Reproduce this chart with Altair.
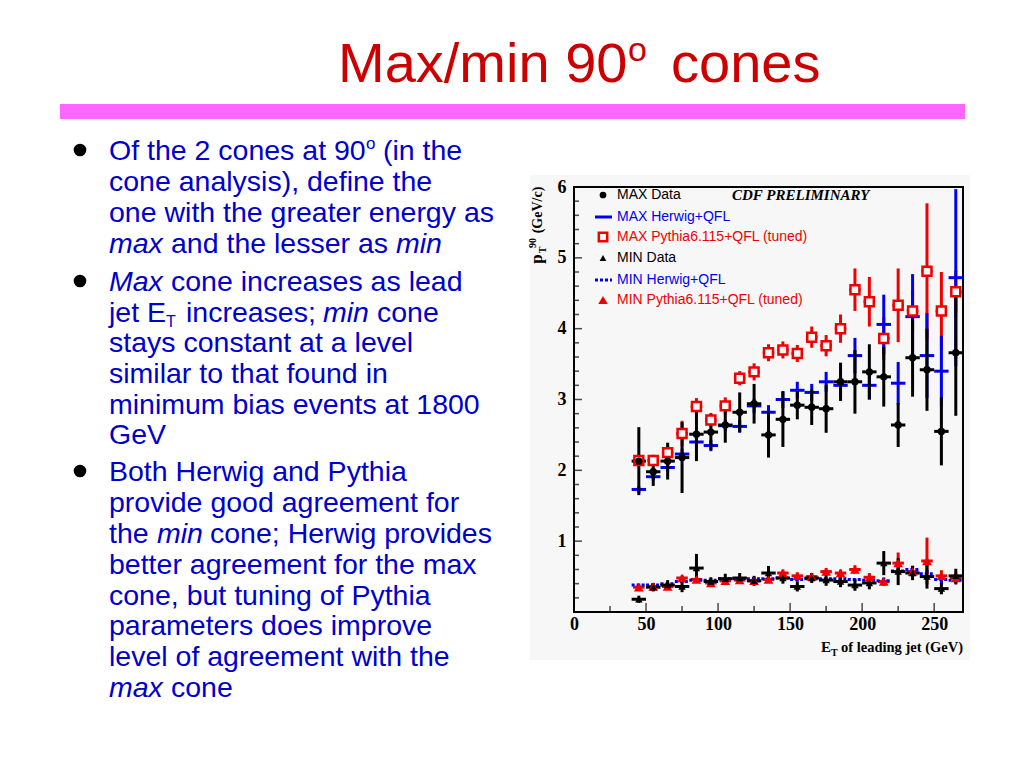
import altair as alt
import pandas as pd

# ---------------- data ----------------
et_bins = [45, 55, 65, 75, 85, 95, 105, 115, 125, 135, 145, 155,
           165, 175, 185, 195, 205, 215, 225, 235, 245, 255, 265]

max_data = [2.13, 1.98, 2.13, 2.18, 2.51, 2.54, 2.64, 2.82, 2.94, 2.50, 2.72, 2.92,
            2.89, 2.87, 3.25, 3.25, 3.39, 3.32, 2.64, 3.59, 3.42, 2.55, 3.66]
max_data_err = [0.48, 0.20, 0.26, 0.50, 0.38, 0.25, 0.25, 0.28, 0.28, 0.32, 0.39, 0.20,
                0.25, 0.34, 0.27, 0.45, 0.39, 0.42, 0.31, 0.55, 0.58, 0.48, 0.89]

max_herwig = [1.73, 1.91, 2.04, 2.23, 2.40, 2.35, 2.63, 2.62, 2.91, 2.82, 3.00, 3.13,
              3.10, 3.25, 3.20, 3.62, 3.20, 4.06, 3.23, 4.17, 3.62, 3.40, 4.72]
max_herwig_err = [0.05, 0.05, 0.06, 0.07, 0.07, 0.08, 0.08, 0.09, 0.10, 0.10, 0.12, 0.12,
                  0.12, 0.14, 0.15, 0.25, 0.20, 0.42, 0.30, 0.60, 0.60, 0.50, 1.25]

max_pythia = [2.14, 2.14, 2.25, 2.52, 2.90, 2.71, 2.91, 3.30, 3.39, 3.66, 3.70, 3.65,
              3.88, 3.76, 4.00, 4.55, 4.38, 3.86, 4.33, 4.25, 4.81, 4.25, 4.52]
max_pythia_err = [0.08, 0.08, 0.10, 0.18, 0.12, 0.10, 0.12, 0.10, 0.12, 0.12, 0.12, 0.12,
                  0.15, 0.15, 0.20, 0.30, 0.35, 0.30, 0.52, 0.30, 0.96, 0.55, 0.30]

min_data = [0.18, 0.35, 0.38, 0.36, 0.62, 0.43, 0.47, 0.48, 0.44, 0.55, 0.48, 0.36,
            0.48, 0.45, 0.43, 0.38, 0.41, 0.69, 0.57, 0.55, 0.50, 0.33, 0.51]
min_data_err = [0.05, 0.06, 0.07, 0.08, 0.20, 0.06, 0.07, 0.07, 0.07, 0.10, 0.08, 0.07,
                0.07, 0.08, 0.08, 0.08, 0.09, 0.17, 0.19, 0.10, 0.17, 0.08, 0.10]

min_herwig = [0.38, 0.38, 0.40, 0.43, 0.45, 0.45, 0.47, 0.47, 0.47, 0.47, 0.48, 0.46,
              0.47, 0.47, 0.47, 0.46, 0.45, 0.44, 0.58, 0.60, 0.54, 0.46, 0.45]
min_herwig_err = [0.02, 0.02, 0.02, 0.02, 0.02, 0.02, 0.02, 0.02, 0.02, 0.02, 0.03, 0.03,
                  0.03, 0.03, 0.03, 0.03, 0.04, 0.04, 0.06, 0.06, 0.06, 0.06, 0.06]

min_pythia = [0.35, 0.36, 0.36, 0.48, 0.46, 0.41, 0.44, 0.45, 0.44, 0.46, 0.55, 0.51,
              0.50, 0.57, 0.55, 0.60, 0.49, 0.43, 0.69, 0.57, 0.72, 0.51, 0.48]
min_pythia_err = [0.03, 0.03, 0.03, 0.04, 0.04, 0.04, 0.04, 0.04, 0.04, 0.04, 0.05, 0.05,
                  0.05, 0.05, 0.05, 0.06, 0.06, 0.06, 0.15, 0.08, 0.33, 0.08, 0.08]

x_major = [0, 50, 100, 150, 200, 250]
x_minor = [25, 75, 125, 175, 225]
y_major = [1, 2, 3, 4, 5, 6]
y_minor = [round(i * 0.2, 1) for i in range(1, 30) if i % 5]

legend_labels = ["MAX Data", "MAX Herwig+QFL", "MAX Pythia6.115+QFL (tuned)",
                 "MIN Data", "MIN Herwig+QFL", "MIN Pythia6.115+QFL (tuned)"]

# ---------------- layout ----------------
X0, Y0 = 574, 187          # page position of the plot origin
W, H = 389, 425
BG = "#f7f7f7"
BLUE = "#0000f0"
RED = "#f00000"
TXT_BLUE = "#0000cc"
TITLE_RED = "#cc0000"
SERIF = "Liberation Serif"
SANS = "Liberation Sans"

one = pd.DataFrame({"a": [0]})

xs = alt.Scale(domain=[0, 270], nice=False, zero=False)
ys = alt.Scale(domain=[0, 6], nice=False, zero=False)
ax_x = alt.Axis(values=x_major, title=None, ticks=False, domain=False, grid=False,
                labelFont=SERIF, labelFontWeight="bold", labelFontSize=18,
                labelColor="black", labelPadding=3, labelFlush=False, zindex=2)
ax_y = alt.Axis(values=y_major, title=None, ticks=False, domain=False, grid=False,
                labelFont=SERIF, labelFontWeight="bold", labelFontSize=18,
                labelColor="black", labelPadding=8, labelFlush=False, zindex=2)


def X(f):
    return alt.X(f"{f}:Q", scale=xs, axis=ax_x)


def Y(f):
    return alt.Y(f"{f}:Q", scale=ys, axis=ax_y)


def base(vals, errs, half=5):
    df = pd.DataFrame({"et": et_bins, "v": vals, "e": errs})
    return alt.Chart(df).transform_calculate(
        lo="datum.v - datum.e", hi="datum.v + datum.e",
        xl=f"datum.et - {half}", xr=f"datum.et + {half}")


def vbar(b, c, dash=None):
    kw = {"strokeDash": dash} if dash else {}
    return b.mark_rule(color=c, strokeWidth=3, **kw).encode(x=X("et"), y=Y("lo"), y2="hi:Q")


def hbar(b, c, dash=None):
    kw = {"strokeDash": dash} if dash else {}
    return b.mark_rule(color=c, strokeWidth=3, **kw).encode(x=X("xl"), x2="xr:Q", y=Y("v"))


def txt(s, px, py, size, color="black", font=SANS, weight="normal", style="normal",
        align="left", baseline="alphabetic", angle=None):
    kw = dict(text=s, fontSize=size, color=color, font=font, fontWeight=weight,
              fontStyle=style, align=align, baseline=baseline)
    if angle:
        kw["angle"] = angle
    return alt.Chart(one).mark_text(**kw).encode(x=alt.value(px - X0), y=alt.value(py - Y0))


def rect(x1, y1, x2, y2, color):
    return alt.Chart(one).mark_rect(color=color).encode(
        x=alt.value(x1 - X0), x2=alt.value(x2 - X0), y=alt.value(y1 - Y0), y2=alt.value(y2 - Y0))


def sym(px, py, shape, size, color, fill=None, sw=0):
    kw = dict(shape=shape, size=size, filled=True, color=color, opacity=1)
    if fill:
        kw.update(fill=fill, stroke=color, strokeWidth=sw)
    return alt.Chart(one).mark_point(**kw).encode(x=alt.value(px - X0), y=alt.value(py - Y0))


def hline(x1, x2, py, color, dash=None):
    kw = {"strokeDash": dash} if dash else {}
    return alt.Chart(one).mark_rule(color=color, strokeWidth=3, **kw).encode(
        x=alt.value(x1 - X0), x2=alt.value(x2 - X0), y=alt.value(py - Y0))


layers = []
# backgrounds
layers.append(rect(530, 175, 970, 660, BG))
layers.append(rect(60, 104, 965, 119, "#ff66ff"))
# plot frame
layers.append(alt.Chart(one).mark_rect(fillOpacity=0, stroke="black", strokeWidth=2).encode(
    x=alt.value(0), x2=alt.value(W), y=alt.value(0), y2=alt.value(H)))

# axis ticks (inward)
yt_major = alt.Chart(pd.DataFrame({"t": y_major})).mark_tick(color="black", size=8, thickness=1.5).encode(
    y=Y("t"), x=alt.value(4))
yt_minor = alt.Chart(pd.DataFrame({"t": y_minor})).mark_tick(color="black", size=5, thickness=1.5).encode(
    y=Y("t"), x=alt.value(2.5))
xt_major = alt.Chart(pd.DataFrame({"t": x_major})).mark_tick(color="black", size=9, thickness=1.5).encode(
    x=X("t"), y=alt.value(H - 4.5))
xt_minor = alt.Chart(pd.DataFrame({"t": x_minor})).mark_tick(color="black", size=6, thickness=1.5).encode(
    x=X("t"), y=alt.value(H - 3))
layers += [yt_major, yt_minor, xt_major, xt_minor]

# MAX series
b_mp = base(max_pythia, max_pythia_err, 4)
b_mh = base(max_herwig, max_herwig_err)
b_md = base(max_data, max_data_err)
layers += [vbar(b_mp, RED), hbar(b_mp, RED), vbar(b_mh, BLUE), hbar(b_mh, BLUE),
           vbar(b_md, "black"), hbar(b_md, "black")]
layers.append(b_mp.mark_point(shape="square", filled=True, color=RED, fill=BG, stroke=RED,
                              strokeWidth=2.5, size=80, opacity=1).encode(x=X("et"), y=Y("v")))
layers.append(b_md.mark_point(shape="circle", filled=True, color="black", size=55, opacity=1).encode(
    x=X("et"), y=Y("v")))

# MIN series
b_np = base(min_pythia, min_pythia_err, 4)
b_nh = base(min_herwig, min_herwig_err)
b_nd = base(min_data, min_data_err)
layers += [vbar(b_np, RED), hbar(b_np, RED), vbar(b_nh, BLUE, [3, 2]), hbar(b_nh, BLUE, [3, 2]),
           vbar(b_nd, "black"), hbar(b_nd, "black")]
layers.append(b_np.mark_point(shape="triangle-up", filled=True, color=RED, size=95, opacity=1).encode(
    x=X("et"), y=Y("v")))
layers.append(b_nd.mark_point(shape="triangle-up", filled=True, color="black", size=55, opacity=1).encode(
    x=X("et"), y=Y("v")))

# legend inside the plot
leg_y = [195, 217, 237, 258, 280, 300]
leg_col = ["black", BLUE, RED, "black", BLUE, RED]
layers.append(sym(603, leg_y[0], "circle", 45, "black"))
layers.append(hline(595, 612, leg_y[1], BLUE))
layers.append(sym(603, leg_y[2], "square", 70, RED, fill=BG, sw=2.5))
layers.append(sym(603, leg_y[3], "triangle-up", 45, "black"))
layers.append(hline(595, 612, leg_y[4], BLUE, [3, 2]))
layers.append(sym(603, leg_y[5], "triangle-up", 90, RED))
for lab, ly, lc in zip(legend_labels, leg_y, leg_col):
    layers.append(txt(lab, 617, ly, 14, lc, baseline="middle"))
layers.append(txt("CDF PRELIMINARY", 732, 195, 15, "black", font=SERIF, weight="bold",
                  style="italic", baseline="middle"))

# axis titles
layers.append(txt("p", 537, 259, 17, font=SERIF, weight="bold", align="center", baseline="middle", angle=270))
layers.append(txt("T", 543, 250, 10, font=SERIF, weight="bold", align="center", baseline="middle", angle=270))
layers.append(txt("90", 533, 243, 10, font=SERIF, weight="bold", align="center", baseline="middle", angle=270))
layers.append(txt("(GeV/c)", 538, 210, 14, font=SERIF, weight="bold", align="center", baseline="middle", angle=270))
layers.append(txt("E", 821, 652, 15, font=SERIF, weight="bold"))
layers.append(txt("T", 831, 656, 10, font=SERIF, weight="bold"))
layers.append(txt("of leading jet (GeV)", 963, 652, 14.5, font=SERIF, weight="bold", align="right"))

# slide title
layers.append(txt("Max/min 90", 338, 82, 56, TITLE_RED))
layers.append(txt("o", 628, 61, 34, TITLE_RED))
layers.append(txt("cones", 671, 82, 56, TITLE_RED))

# bullets
FS = 28.5
for by in [150, 281, 471]:
    layers.append(sym(80, by, "circle", 160, "black"))

lines = [
    # (text, x, baseline y, style)
    ("Of the 2 cones at 90", 109, 160, "normal"),
    ("(in the", 383, 160, "normal"),
    ("cone analysis), define  the", 109, 191, "normal"),
    ("one with the greater energy as", 109, 222, "normal"),
    ("max", 109, 253, "italic"),
    ("and the lesser as", 171, 253, "normal"),
    ("min", 396, 253, "italic"),
    ("Max", 109, 291, "italic"),
    ("cone increases as lead", 171, 291, "normal"),
    ("jet E", 109, 322, "normal"),
    ("increases;", 186, 322, "normal"),
    ("min", 323, 322, "italic"),
    ("cone", 377, 322, "normal"),
    ("stays constant at a level", 109, 352, "normal"),
    ("similar to that found  in", 109, 383, "normal"),
    ("minimum bias events at 1800", 109, 414, "normal"),
    ("GeV", 109, 444, "normal"),
    ("Both Herwig and Pythia", 109, 481, "normal"),
    ("provide good  agreement for", 109, 512, "normal"),
    ("the", 109, 543, "normal"),
    ("min", 157, 543, "italic"),
    ("cone; Herwig provides", 210, 543, "normal"),
    ("better agreement for the max", 109, 574, "normal"),
    ("cone, but tuning of Pythia", 109, 605, "normal"),
    ("parameters does improve", 109, 635, "normal"),
    ("level of agreement with the", 109, 666, "normal"),
    ("max", 109, 697, "italic"),
    ("cone", 171, 697, "normal"),
]
for s, lx, ly, st in lines:
    layers.append(txt(s, lx, ly, FS, TXT_BLUE, style=st))
layers.append(txt("o", 366, 149, 17, TXT_BLUE))
layers.append(txt("T", 166, 327, 16, TXT_BLUE))

chart = alt.layer(*layers).properties(
    width=W, height=H,
    autosize=alt.AutoSizeParams(type="none"),
    padding={"left": X0 - 8, "top": Y0 - 8, "right": 1024 - 16 - (X0 - 8) - W,
             "bottom": 768 - 16 - (Y0 - 8) - H},
    background="white",
).configure_view(stroke=None)

chart.save("out.html", embed_options={"renderer": "svg", "actions": False})
